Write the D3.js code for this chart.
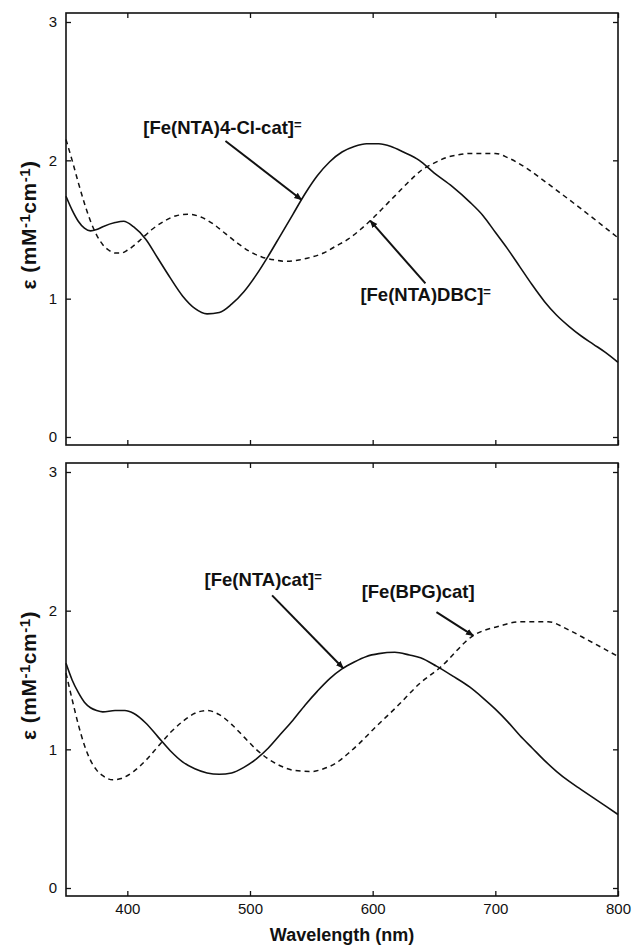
<!DOCTYPE html>
<html>
<head>
<meta charset="utf-8">
<script src="https://cdn.jsdelivr.net/npm/d3@7"></script>
<style>
  body { margin: 0; background: #fff; }
  svg { display: block; }
  text { font-family: "Liberation Sans", Arial, sans-serif; fill: #111; }
</style>
</head>
<body>
<div id="chart"></div>
<script>
// tick values
const xTicks = [400, 500, 600, 700, 800];
const yTicks = [0, 1, 2, 3];

// top panel: [Fe(NTA)4-Cl-cat]= (solid) and [Fe(NTA)DBC]= (dashed), [nm, eps]
const feNta4ClCat = [[350,1.74],[355,1.64],[360,1.56],[365,1.51],[370,1.49],[375,1.50],[380,1.52],[390,1.55],[397,1.56],[405,1.52],[415,1.43],[425,1.29],[435,1.15],[445,1.02],[455,0.93],[465,0.89],[475,0.90],[485,0.96],[495,1.05],[505,1.17],[515,1.31],[525,1.46],[535,1.61],[545,1.76],[555,1.89],[565,1.99],[575,2.06],[585,2.10],[595,2.12],[605,2.12],[615,2.10],[625,2.06],[638,2.00],[650,1.91],[665,1.81],[679,1.70],[690,1.60],[700,1.48],[710,1.36],[720,1.23],[730,1.10],[740,0.98],[750,0.88],[760,0.80],[770,0.73],[780,0.67],[790,0.61],[800,0.54]];
const feNtaDbc = [[350,2.15],[355,2.00],[360,1.84],[365,1.69],[370,1.56],[375,1.46],[380,1.39],[385,1.35],[390,1.33],[395,1.33],[400,1.35],[410,1.42],[420,1.50],[430,1.56],[440,1.60],[450,1.61],[460,1.59],[470,1.54],[480,1.47],[490,1.40],[500,1.34],[510,1.30],[520,1.28],[530,1.27],[540,1.28],[550,1.30],[560,1.33],[570,1.38],[580,1.43],[590,1.50],[600,1.58],[610,1.67],[620,1.76],[630,1.85],[640,1.93],[650,1.98],[660,2.02],[670,2.04],[680,2.05],[700,2.05],[710,2.02],[726,1.94],[740,1.85],[761,1.71],[780,1.58],[800,1.44]];

// bottom panel: [Fe(NTA)cat]= (solid) and [Fe(BPG)cat] (dashed)
const feNtaCat = [[350,1.62],[355,1.50],[360,1.41],[365,1.34],[370,1.30],[375,1.28],[380,1.27],[390,1.28],[398,1.28],[405,1.26],[415,1.19],[425,1.09],[435,0.99],[445,0.91],[455,0.86],[465,0.83],[475,0.82],[485,0.83],[495,0.87],[505,0.93],[515,1.01],[525,1.11],[535,1.21],[545,1.32],[555,1.42],[565,1.51],[575,1.58],[585,1.63],[595,1.67],[605,1.69],[618,1.70],[630,1.68],[639,1.66],[652,1.60],[665,1.53],[679,1.45],[690,1.37],[700,1.29],[710,1.20],[720,1.10],[730,1.01],[740,0.92],[750,0.84],[760,0.77],[770,0.71],[780,0.65],[790,0.59],[800,0.53]];
const feBpgCat = [[350,1.55],[355,1.36],[360,1.18],[365,1.03],[370,0.92],[375,0.85],[380,0.81],[388,0.78],[395,0.79],[405,0.84],[415,0.92],[425,1.02],[435,1.12],[445,1.20],[455,1.26],[465,1.28],[475,1.25],[485,1.18],[495,1.09],[505,1.00],[515,0.93],[525,0.88],[535,0.85],[550,0.84],[560,0.86],[570,0.90],[580,0.97],[590,1.05],[600,1.14],[620,1.31],[639,1.48],[655,1.59],[682,1.82],[704,1.89],[720,1.92],[743,1.92],[760,1.86],[775,1.79],[800,1.67]];

const width = 635, height = 946;
const x = d3.scaleLinear().domain([350, 800]).range([66, 618]);

// value on a series at a wavelength (for arrow tips)
const valueAt = (series, nm) => {
    const i = d3.bisector(d => d[0]).left(series, nm);
    if (i <= 0) return series[0][1];
    const a = series[i - 1], b = series[i];
    return a[1] + (b[1] - a[1]) * (nm - a[0]) / (b[0] - a[0]);
};

const panels = [
    {
        top: 13, bottom: 445, showX: false,
        solid: feNta4ClCat, dashed: feNtaDbc,
        notes: [
            { text: '[Fe(NTA)4-Cl-cat]', sup: '=', at: [413, 2.19], from: [480, 2.14], tipNm: 542, series: feNta4ClCat },
            { text: '[Fe(NTA)DBC]', sup: '=', at: [590, 0.98], from: [643, 1.11], tipNm: 598, series: feNtaDbc }
        ]
    },
    {
        top: 463, bottom: 896, showX: true,
        solid: feNtaCat, dashed: feBpgCat,
        notes: [
            { text: '[Fe(NTA)cat]', sup: '=', at: [463, 2.18], from: [518, 2.11], tipNm: 576, series: feNtaCat },
            { text: '[Fe(BPG)cat]', sup: '', at: [591, 2.09], from: [652, 1.99], tipNm: 682, series: feBpgCat }
        ]
    }
];

const svg = d3.select('#chart')
    .append('svg')
    .attr('width', width)
    .attr('height', height);

svg.append('defs').append('marker')
    .attr('id', 'arrow')
    .attr('viewBox', '0 0 10 10')
    .attr('refX', 9).attr('refY', 5)
    .attr('markerWidth', 4).attr('markerHeight', 4)
    .attr('orient', 'auto')
    .append('path')
    .attr('d', 'M0,1 L10,5 L0,9 Z')
    .attr('fill', '#111');

panels.forEach(p => {
    const y = d3.scaleLinear().domain([0, 3]).range([p.bottom - 8, p.top + 9]);
    const g = svg.append('g');

    const line = d3.line()
        .x(d => x(d[0]))
        .y(d => y(d[1]))
        .curve(d3.curveMonotoneX);

    // curves
    g.append('path')
        .datum(p.solid)
        .attr('d', line)
        .attr('fill', 'none')
        .attr('stroke', '#111')
        .attr('stroke-width', 1.6);

    g.append('path')
        .datum(p.dashed)
        .attr('d', line)
        .attr('fill', 'none')
        .attr('stroke', '#111')
        .attr('stroke-width', 1.5)
        .attr('stroke-dasharray', '5,4');

    // axes: ticks point inward on all four sides
    g.append('g')
        .attr('transform', `translate(${x.range()[0]},0)`)
        .call(d3.axisLeft(y).tickValues(yTicks).tickFormat(d3.format('d')).tickSizeInner(-5).tickSizeOuter(0).tickPadding(9));
    g.append('g')
        .attr('transform', `translate(${x.range()[1]},0)`)
        .call(d3.axisRight(y).tickValues(yTicks).tickFormat('').tickSizeInner(-5).tickSizeOuter(0));
    g.append('g')
        .attr('transform', `translate(0,${p.top})`)
        .call(d3.axisTop(x).tickValues(xTicks).tickFormat('').tickSizeInner(-5).tickSizeOuter(0));
    g.append('g')
        .attr('transform', `translate(0,${p.bottom})`)
        .call(d3.axisBottom(x).tickValues(xTicks).tickFormat(p.showX ? d3.format('d') : '').tickSizeInner(-5).tickSizeOuter(0).tickPadding(7));

    g.selectAll('.domain').remove();
    g.selectAll('.tick line').attr('stroke', '#111').attr('stroke-width', 1.3);
    g.selectAll('.tick text')
        .style('font-size', '15px')
        .style('font-family', '"Liberation Sans", Arial, sans-serif')
        .attr('fill', '#222');

    // frame
    g.append('rect')
        .attr('x', x.range()[0])
        .attr('y', p.top)
        .attr('width', x.range()[1] - x.range()[0])
        .attr('height', p.bottom - p.top)
        .attr('fill', 'none')
        .attr('stroke', '#111')
        .attr('stroke-width', 1.6);

    // y label
    const yl = g.append('text')
        .attr('transform', `translate(36,${(p.top + p.bottom) / 2 - 4}) rotate(-90)`)
        .attr('text-anchor', 'middle')
        .style('font-size', '21px')
        .style('font-weight', 'bold')
        .style('letter-spacing', '0.5px');
    yl.append('tspan').text('ε (mM');
    yl.append('tspan').attr('baseline-shift', '40%').style('font-size', '15px').text('-1');
    yl.append('tspan').text('cm');
    yl.append('tspan').attr('baseline-shift', '40%').style('font-size', '15px').text('-1');
    yl.append('tspan').text(')');

    // annotations with arrows
    p.notes.forEach(n => {
        const t = g.append('text')
            .attr('x', x(n.at[0]))
            .attr('y', y(n.at[1]))
            .style('font-size', '18.5px')
            .style('font-weight', 'bold');
        t.append('tspan').text(n.text);
        if (n.sup) {
            t.append('tspan').attr('baseline-shift', '40%').style('font-size', '13px').text(n.sup);
        }
        g.append('line')
            .attr('x1', x(n.from[0]))
            .attr('y1', y(n.from[1]))
            .attr('x2', x(n.tipNm))
            .attr('y2', y(valueAt(n.series, n.tipNm)))
            .attr('stroke', '#111')
            .attr('stroke-width', 2)
            .attr('marker-end', 'url(#arrow)');
    });
});

// x axis title
svg.append('text')
    .attr('x', (x.range()[0] + x.range()[1]) / 2)
    .attr('y', 941)
    .attr('text-anchor', 'middle')
    .style('font-size', '18px')
    .style('font-weight', 'bold')
    .text('Wavelength (nm)');
</script>
</body>
</html>
